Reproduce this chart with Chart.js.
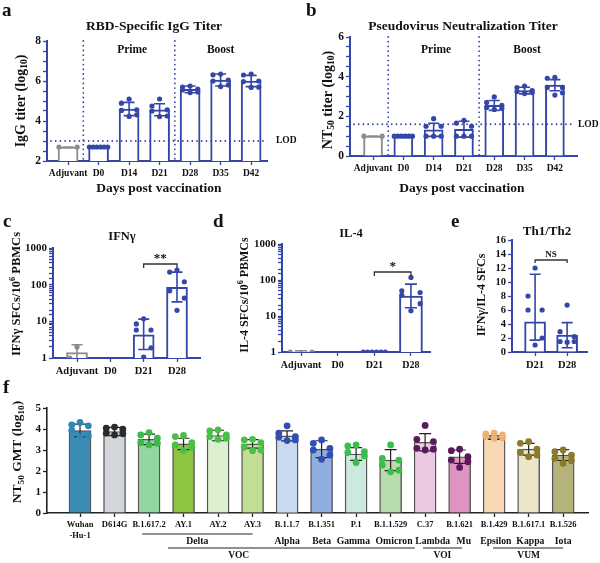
<!DOCTYPE html>
<html>
<head>
<meta charset="utf-8">
<script src="https://cdn.jsdelivr.net/npm/chart.js@4.4.1/dist/chart.umd.min.js"></script>
<style>
  body { margin: 0; background: #fff; }
  #fig { position: relative; width: 600px; height: 563px; overflow: hidden; background: #fff; }
  canvas { position: absolute; }
  .lt { position: absolute; font: bold 19px "Liberation Serif", serif; line-height: 1; color: #111; }
</style>
</head>
<body>
<div id="fig">
  <canvas id="pa" width="300" height="200" style="left:0;top:0"></canvas>
  <canvas id="pb" width="300" height="200" style="left:300px;top:0"></canvas>
  <canvas id="pc" width="230" height="168" style="left:0;top:220px"></canvas>
  <canvas id="pd" width="230" height="168" style="left:230px;top:220px"></canvas>
  <canvas id="pe" width="140" height="168" style="left:460px;top:220px"></canvas>
  <canvas id="pf" width="600" height="168" style="left:0;top:395px"></canvas>
  <div class="lt" style="left:2px;top:0">a</div>
  <div class="lt" style="left:306px;top:0">b</div>
  <div class="lt" style="left:3px;top:211px">c</div>
  <div class="lt" style="left:213px;top:211px">d</div>
  <div class="lt" style="left:451px;top:211px">e</div>
  <div class="lt" style="left:3px;top:377px">f</div>
</div>
<script>
// ---- data ----
const timeLabels = ['Adjuvant', 'D0', 'D14', 'D21', 'D28', 'D35', 'D42'];
const iggMean = [2.7, 2.7, 4.6, 4.56, 5.58, 6.05, 6.0];
const iggSd = [0, 0, 0.33, 0.3, 0.17, 0.3, 0.28];
const iggDots = [[2.7, 2.7], [2.7, 2.7, 2.7, 2.7, 2.7, 2.7], [5.1, 4.89, 4.56, 4.53, 4.31, 4.23],
  [5.1, 4.75, 4.56, 4.5, 4.25, 4.22], [5.75, 5.7, 5.6, 5.55, 5.45, 5.42], [6.35, 6.31, 6.05, 6.0, 5.8, 5.72],
  [6.35, 6.3, 6.0, 5.97, 5.69, 5.68]];
const iggLOD = 3;

const ntMean = [1.0, 1.0, 1.32, 1.35, 2.55, 3.3, 3.57];
const ntSd = [0, 0, 0.33, 0.4, 0.25, 0.17, 0.28];
const ntDots = [[1, 1], [1, 1, 1, 1, 1, 1], [1.88, 1.5, 1.5, 1.0, 1.0, 1.0], [1.8, 1.66, 1.5, 1.0, 1.0, 1.0],
  [2.98, 2.7, 2.55, 2.45, 2.4, 2.35], [3.53, 3.45, 3.3, 3.25, 3.2, 3.15], [3.97, 3.92, 3.46, 3.46, 3.19, 3.07]];
const ntLOD = 1.6;
const phaseBreaks = [0.5, 3.5];

const cellLabels = ['Adjuvant', 'D0', 'D21', 'D28'];
const ifnMean = [1.4, null, 4.3, 85];
const ifnLo = [1.0, null, 1.7, 34];
const ifnHi = [2.3, null, 11.5, 220];
const ifnDots = [[2.0, 1.0], [], [11.7, 8.5, 5.8, 5.8, 1.9, 1.05], [250, 220, 120, 68, 43, 20]];

const il4Mean = [1.05, null, 1.0, 36];
const il4Lo = [1.0, null, 1.0, 17];
const il4Hi = [1.08, null, 1.0, 77];
const il4Dots = [[1.0, 1.0], [], [1, 1, 1, 1, 1, 1], [118, 50, 45, 38, 22, 14]];

const ratioLabels = ['D21', 'D28'];
const ratioMean = [4.3, 2.4];
const ratioLo = [1.7, 0.6];
const ratioHi = [11.1, 4.2];
const ratioDots = [[12, 8, 6, 6, 2, 1], [6.7, 2.9, 2.2, 1.5, 1.5, 1.4]];

const variantLabels = [['Wuhan', '-Hu-1'], 'D614G', 'B.1.617.2', 'AY.1', 'AY.2', 'AY.3', 'B.1.1.7', 'B.1.351',
  'P.1', 'B.1.1.529', 'C.37', 'B.1.621', 'B.1.429', 'B.1.617.1', 'B.1.526'];
const gmtMean = [3.93, 3.88, 3.51, 3.29, 3.69, 3.29, 3.67, 3.04, 2.81, 2.52, 3.37, 2.68, 3.59, 3.04, 2.76];
const gmtSd = [0.3, 0.2, 0.25, 0.27, 0.25, 0.2, 0.24, 0.4, 0.3, 0.5, 0.41, 0.32, 0.08, 0.28, 0.26];
const gmtDots = [
  [4.31, 4.2, 4.15, 3.93, 3.67, 3.64], [4.09, 4.04, 3.99, 3.8, 3.77, 3.72], [3.83, 3.72, 3.56, 3.35, 3.32, 3.24],
  [3.69, 3.64, 3.35, 3.24, 3.13, 2.97], [3.96, 3.91, 3.72, 3.64, 3.56, 3.51], [3.51, 3.48, 3.35, 3.13, 3.0, 2.97],
  [4.15, 3.8, 3.64, 3.61, 3.48, 3.45], [3.48, 3.32, 3.08, 3.0, 2.76, 2.56], [3.24, 3.19, 2.92, 2.88, 2.72, 2.4],
  [3.24, 2.6, 2.52, 2.28, 2.04, 1.96], [4.17, 3.51, 3.4, 3.08, 3.04, 3.0], [3.04, 2.97, 2.68, 2.52, 2.44, 2.17],
  [3.8, 3.77, 3.72, 3.64, 3.58, 3.55], [3.4, 3.32, 3.04, 2.88, 2.76, 2.68], [3.0, 2.92, 2.76, 2.6, 2.49, 2.36]];
const lineageNames = ['Delta', 'Alpha', 'Beta', 'Gamma', 'Omicron', 'Lambda', 'Mu', 'Epsilon', 'Kappa', 'Iota'];
const lineageAt = [3.4, 6, 7, 7.92, 9.1, 10.22, 11.12, 12.05, 13.05, 14];
const classNames = ['VOC', 'VOI', 'VUM'];
const classAt = [4.6, 10.5, 13];
const classSpan = [[2.55, 9.7], [9.94, 11.07], [11.97, 14.0]];
const deltaSpan = [1.8, 5.0];

// ---- styles ----
const SERIF = '"Liberation Serif","Times New Roman",serif';
const BLUE = '#3446a8';
const GRAY = '#8c8c8c';
const barFillF = ['#3b8db5', '#d3d6db', '#93d5a3', '#8cc540', '#dcefd0', '#c0df94', '#c9d9f2', '#8fadde',
  '#cce9de', '#b7dcae', '#ecc9e3', '#df93c0', '#f8d7b5', '#ebe6c8', '#b6b27c'];
const dotColF = ['#2f86b8', '#2b2b2b', '#3cb94a', '#4cc046', '#4cc046', '#4cc046', '#2f4fb5', '#2f4fb5',
  '#3cbc4a', '#3cbc4a', '#5a1a5a', '#5a1a5a', '#f0b072', '#8c7a2c', '#8c7a2c'];

function spreadDots(groups, spread) {
  const pts = [], grp = [];
  const pattern = [0, -1, 1, -1, 1, 0, -0.5, 0.5];
  groups.forEach((vals, i) => {
    if (!vals.length) return;
    const same = vals.every(v => v === vals[0]);
    [...vals].sort((a, b) => b - a).forEach((v, j) => {
      const off = same ? (vals.length > 1 ? -1.2 * spread + 2.4 * spread * j / (vals.length - 1) : 0)
                       : pattern[j % pattern.length] * spread;
      pts.push({ x: i + off, y: v });
      grp.push(i);
    });
  });
  return { pts, grp };
}

function text(ctx, s, x, y, size, align) {
  ctx.save();
  ctx.font = `bold ${size}px ${SERIF}`;
  ctx.fillStyle = '#111';
  ctx.textAlign = align || 'center';
  ctx.textBaseline = 'middle';
  ctx.fillText(s, x, y);
  ctx.restore();
}

// text with sub/superscript pieces, optionally rotated
function rich(ctx, segs, x, y, size, rot) {
  ctx.save();
  ctx.translate(x, y);
  if (rot) ctx.rotate(-Math.PI / 2);
  ctx.fillStyle = '#111';
  ctx.textBaseline = 'middle';
  ctx.textAlign = 'left';
  let total = 0;
  const parts = segs.map(s => {
    const plain = typeof s === 'string';
    const str = plain ? s : s.t;
    const sz = plain ? size : size * 0.68;
    ctx.font = `bold ${sz}px ${SERIF}`;
    const w = ctx.measureText(str).width;
    total += w;
    return { str, sz, w, dy: plain ? 0 : (s.sub ? size * 0.28 : -size * 0.32) };
  });
  let cx = -total / 2;
  parts.forEach(p => { ctx.font = `bold ${p.sz}px ${SERIF}`; ctx.fillText(p.str, cx, p.dy); cx += p.w; });
  ctx.restore();
}

function dotted(ctx, x1, y1, x2, y2) {
  ctx.save();
  ctx.strokeStyle = BLUE; ctx.lineWidth = 1.8; ctx.lineCap = 'round';
  ctx.setLineDash([0.01, 4.7]);
  ctx.beginPath(); ctx.moveTo(x1, y1); ctx.lineTo(x2, y2); ctx.stroke();
  ctx.restore();
}

function bracket(ctx, x1, x2, y, leg) {
  ctx.save();
  ctx.strokeStyle = '#333'; ctx.lineWidth = 1.3;
  ctx.beginPath(); ctx.moveTo(x1, y + leg); ctx.lineTo(x1, y); ctx.lineTo(x2, y); ctx.lineTo(x2, y + leg); ctx.stroke();
  ctx.restore();
}

function makePanel(id, p) {
  const cv = document.getElementById(id);
  const W = cv.width, H = cv.height;
  const dots = spreadDots(p.dots, p.spread);
  const font = s => ({ family: SERIF, weight: 'bold', size: s, lineHeight: 1.2 });
  const errPlugin = {
    id: 'err',
    afterDatasetDraw(chart, args) {
      if (args.index !== 0) return;
      const { ctx, scales: { x, y } } = chart;
      ctx.save();
      ctx.lineWidth = p.errW;
      p.lo.forEach((l, i) => {
        if (l == null) return;
        const px = x.getPixelForValue(i);
        const y1 = y.getPixelForValue(l), y2 = y.getPixelForValue(p.hi[i]);
        ctx.strokeStyle = Array.isArray(p.errCol) ? p.errCol[i] : p.errCol;
        ctx.beginPath();
        ctx.moveTo(px, y1); ctx.lineTo(px, y2);
        ctx.moveTo(px - p.cap / 2, y2); ctx.lineTo(px + p.cap / 2, y2);
        if (l > y.min) { ctx.moveTo(px - p.cap / 2, y1); ctx.lineTo(px + p.cap / 2, y1); }
        ctx.stroke();
      });
      ctx.restore();
    }
  };
  return new Chart(cv, {
    type: 'bar',
    data: {
      datasets: [
        { type: 'bar', order: 1, data: p.mean.map((v, i) => ({ x: i, y: v })),
          backgroundColor: p.fill, borderColor: p.border, borderWidth: p.bw, barThickness: p.barW },
        { type: 'scatter', order: 0, data: dots.pts, pointRadius: p.r, pointHoverRadius: p.r,
          pointBackgroundColor: dots.grp.map(g => p.dotCol[g]), pointBorderWidth: 0 }
      ]
    },
    options: {
      responsive: false, animation: false, events: [],
      layout: { padding: { left: 0, top: p.area.t, right: W - p.area.r, bottom: 0 } },
      plugins: { legend: { display: false }, tooltip: { enabled: false } },
      scales: {
        x: {
          type: 'linear', min: p.xMin, max: p.xMax, offset: false,
          grid: { display: true, offset: false, drawOnChartArea: false, drawTicks: true, tickLength: 4,
                  tickColor: p.axis, tickWidth: 1.3 },
          border: { display: true, color: p.axis, width: p.axisW },
          ticks: { stepSize: 1, includeBounds: false, autoSkip: false, maxRotation: 0, minRotation: 0,
                   padding: 3, color: '#111', font: font(p.xFont),
                   callback: v => (Number.isInteger(v) && p.labels[v] !== undefined) ? p.labels[v] : '' },
          afterFit: s => { s.height = H - p.area.b; }
        },
        y: {
          type: p.yType || 'linear', min: p.yMin, max: p.yMax,
          grid: { display: true, drawOnChartArea: false, drawTicks: true, tickLength: 4,
                  tickColor: p.axis, tickWidth: 1.3 },
          border: { display: true, color: p.axis, width: p.axisW },
          ticks: { stepSize: p.yStep, autoSkip: false, padding: 2, color: '#111', font: font(p.yFont),
                   callback: p.yCb },
          afterFit: s => { s.width = p.area.l; }
        }
      }
    },
    plugins: [errPlugin, { id: 'ann', afterDraw: chart => p.draw(chart) }]
  });
}

const evenCb = v => (Math.abs(v % 2) < 1e-9 ? v : '');
const decadeCb = v => {
  const l = Math.log10(v);
  return Math.abs(l - Math.round(l)) < 1e-9 ? v : '';
};

// ---- a ----
makePanel('pa', {
  labels: timeLabels, mean: iggMean, dots: iggDots,
  lo: iggMean.map((m, i) => m - iggSd[i]), hi: iggMean.map((m, i) => m + iggSd[i]),
  fill: '#ffffff', border: [GRAY, BLUE, BLUE, BLUE, BLUE, BLUE, BLUE], bw: 2, barW: 20,
  dotCol: [GRAY, BLUE, BLUE, BLUE, BLUE, BLUE, BLUE], r: 2.6, spread: 0.25,
  errCol: [GRAY, BLUE, BLUE, BLUE, BLUE, BLUE, BLUE], errW: 1.6, cap: 11,
  area: { l: 47, r: 267, t: 41, b: 161 }, xMin: -0.69, xMax: 6.52,
  yMin: 2, yMax: 8, yStep: 0.5, yCb: evenCb, yFont: 11.5, xFont: 9.5, axis: BLUE, axisW: 2,
  draw(chart) {
    const { ctx, chartArea: ca, scales: { x, y } } = chart;
    text(ctx, 'RBD-Specific IgG Titer', 154, 27, 13.5);
    phaseBreaks.forEach(b => dotted(ctx, x.getPixelForValue(b), ca.top, x.getPixelForValue(b), ca.bottom));
    dotted(ctx, ca.left + 4, y.getPixelForValue(iggLOD), ca.right, y.getPixelForValue(iggLOD));
    text(ctx, 'LOD', ca.right + 9, y.getPixelForValue(iggLOD), 9.5, 'left');
    text(ctx, 'Prime', x.getPixelForValue(2.1), 50, 11.5);
    text(ctx, 'Boost', x.getPixelForValue(5.0), 50, 11.5);
    rich(ctx, ['IgG titer (log', { t: '10', sub: true }, ')'], 21, 101, 14, true);
    rich(ctx, ['Days post vaccination'], 159, 189, 13.5);
  }
});

// ---- b ----
makePanel('pb', {
  labels: timeLabels, mean: ntMean, dots: ntDots,
  lo: ntMean.map((m, i) => m - ntSd[i]), hi: ntMean.map((m, i) => m + ntSd[i]),
  fill: '#ffffff', border: [GRAY, BLUE, BLUE, BLUE, BLUE, BLUE, BLUE], bw: 2, barW: 19,
  dotCol: [GRAY, BLUE, BLUE, BLUE, BLUE, BLUE, BLUE], r: 2.6, spread: 0.25,
  errCol: [GRAY, BLUE, BLUE, BLUE, BLUE, BLUE, BLUE], errW: 1.6, cap: 11,
  area: { l: 50, r: 277, t: 37, b: 156 }, xMin: -0.76, xMax: 6.73,
  yMin: 0, yMax: 6, yStep: 0.5, yCb: evenCb, yFont: 11.5, xFont: 9.5, axis: BLUE, axisW: 2,
  draw(chart) {
    const { ctx, chartArea: ca, scales: { x, y } } = chart;
    text(ctx, 'Pseudovirus Neutralization Titer', 163, 27, 13.5);
    phaseBreaks.forEach(b => dotted(ctx, x.getPixelForValue(b), ca.top, x.getPixelForValue(b), ca.bottom));
    dotted(ctx, ca.left + 4, y.getPixelForValue(ntLOD), ca.right - 3, y.getPixelForValue(ntLOD));
    text(ctx, 'LOD', ca.right + 1, y.getPixelForValue(ntLOD), 9.5, 'left');
    text(ctx, 'Prime', x.getPixelForValue(2.08), 50, 11.5);
    text(ctx, 'Boost', x.getPixelForValue(5.08), 50, 11.5);
    rich(ctx, ['NT', { t: '50', sub: true }, ' titer (log', { t: '10', sub: true }, ')'], 28, 100, 14, true);
    rich(ctx, ['Days post vaccination'], 162, 189, 13.5);
  }
});

// ---- c ----
makePanel('pc', {
  labels: cellLabels, mean: ifnMean, dots: ifnDots, lo: ifnLo, hi: ifnHi,
  fill: '#ffffff', border: [GRAY, BLUE, BLUE, BLUE], bw: 2, barW: 21,
  dotCol: [GRAY, BLUE, BLUE, BLUE], r: 2.6, spread: 0.22,
  errCol: [GRAY, BLUE, BLUE, BLUE], errW: 1.6, cap: 11,
  area: { l: 53, r: 200, t: 28, b: 138 }, xMin: -0.72, xMax: 3.69,
  yType: 'logarithmic', yMin: 1, yMax: 1000, yCb: decadeCb, yFont: 11, xFont: 10.5, axis: BLUE, axisW: 2,
  draw(chart) {
    const { ctx, scales: { x } } = chart;
    text(ctx, 'IFNγ', 122, 17, 12.5);
    bracket(ctx, x.getPixelForValue(2), x.getPixelForValue(3), 44, 4);
    ctx.save(); ctx.font = `bold 13px ${SERIF}`; ctx.fillStyle = '#111'; ctx.textAlign = 'center';
    ctx.fillText('**', (x.getPixelForValue(2) + x.getPixelForValue(3)) / 2, 42); ctx.restore();
    rich(ctx, ['IFNγ SFCs/10', { t: '6', sub: false }, ' PBMCs'], 17, 74, 12.5, true);
  }
});

// ---- d ----
makePanel('pd', {
  labels: cellLabels, mean: il4Mean, dots: il4Dots, lo: il4Lo, hi: il4Hi,
  fill: '#ffffff', border: [GRAY, BLUE, BLUE, BLUE], bw: 2, barW: 23,
  dotCol: [GRAY, BLUE, BLUE, BLUE], r: 2.6, spread: 0.25,
  errCol: [GRAY, BLUE, BLUE, BLUE], errW: 1.6, cap: 12,
  area: { l: 52, r: 200, t: 24, b: 132 }, xMin: -0.52, xMax: 3.52,
  yType: 'logarithmic', yMin: 1, yMax: 1000, yCb: decadeCb, yFont: 11, xFont: 10, axis: BLUE, axisW: 2,
  draw(chart) {
    const { ctx, scales: { x } } = chart;
    text(ctx, 'IL-4', 121, 14, 12.5);
    bracket(ctx, x.getPixelForValue(2), x.getPixelForValue(3), 52, 4);
    ctx.save(); ctx.font = `bold 13px ${SERIF}`; ctx.fillStyle = '#111'; ctx.textAlign = 'center';
    ctx.fillText('*', (x.getPixelForValue(2) + x.getPixelForValue(3)) / 2, 50); ctx.restore();
    rich(ctx, ['IL-4 SFCs/10', { t: '6', sub: false }, ' PBMCs'], 15, 75, 12, true);
  }
});

// ---- e ----
makePanel('pe', {
  labels: ratioLabels, mean: ratioMean, dots: ratioDots, lo: ratioLo, hi: ratioHi,
  fill: '#ffffff', border: BLUE, bw: 2, barW: 21,
  dotCol: [BLUE, BLUE], r: 2.6, spread: 0.22,
  errCol: BLUE, errW: 1.6, cap: 11,
  area: { l: 52, r: 127, t: 20, b: 132 }, xMin: -0.72, xMax: 1.62,
  yMin: 0, yMax: 16, yStep: 2, yCb: v => v, yFont: 10.5, xFont: 10.5, axis: BLUE, axisW: 2,
  draw(chart) {
    const { ctx, scales: { x } } = chart;
    text(ctx, 'Th1/Th2', 87, 12, 13);
    bracket(ctx, x.getPixelForValue(0), x.getPixelForValue(1), 40, 3);
    ctx.save(); ctx.font = `bold 9px ${SERIF}`; ctx.fillStyle = '#111'; ctx.textAlign = 'center';
    ctx.fillText('NS', (x.getPixelForValue(0) + x.getPixelForValue(1)) / 2, 37); ctx.restore();
    rich(ctx, ['IFNγ/IL-4 SFCs'], 22, 75, 12, true);
  }
});

// ---- f ----
makePanel('pf', {
  labels: variantLabels, mean: gmtMean, dots: gmtDots,
  lo: gmtMean.map((m, i) => m - gmtSd[i]), hi: gmtMean.map((m, i) => m + gmtSd[i]),
  fill: barFillF, border: '#555555', bw: 1.4, barW: 22,
  dotCol: dotColF, r: 3.4, spread: 0.24,
  errCol: '#222222', errW: 1.2, cap: 12,
  area: { l: 47, r: 588, t: 13, b: 118 }, xMin: -0.957, xMax: 14.72,
  yMin: 0, yMax: 5, yStep: 1, yCb: v => v, yFont: 11, xFont: 8.5, axis: '#222222', axisW: 1.6,
  draw(chart) {
    const { ctx, scales: { x } } = chart;
    const px = v => x.getPixelForValue(v);
    rich(ctx, ['NT', { t: '50', sub: true }, ' GMT (log', { t: '10', sub: true }, ')'], 18, 57, 13.5, true);
    ctx.save();
    ctx.strokeStyle = '#222'; ctx.lineWidth = 1.1;
    ctx.beginPath();
    ctx.moveTo(px(deltaSpan[0]), 139); ctx.lineTo(px(deltaSpan[1]), 139);
    classSpan.forEach(s => { ctx.moveTo(px(s[0]), 153); ctx.lineTo(px(s[1]), 153); });
    ctx.stroke();
    ctx.restore();
    lineageNames.forEach((n, i) => text(ctx, n, px(lineageAt[i]), 146, 9.7));
    classNames.forEach((n, i) => text(ctx, n, px(classAt[i]), 161, 9.5));
  }
});
</script>
</body>
</html>
